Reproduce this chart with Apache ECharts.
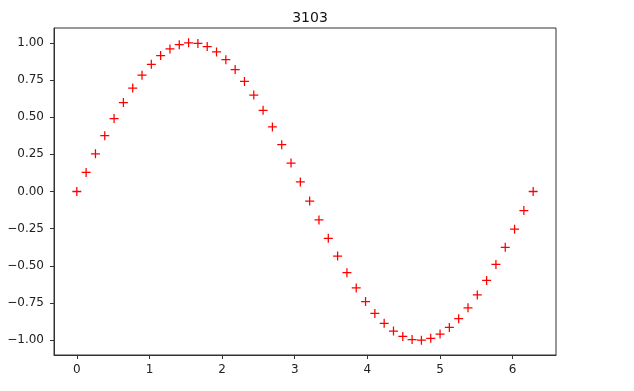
<!DOCTYPE html>
<html>
<head>
<meta charset="utf-8">
<script src="https://cdn.jsdelivr.net/npm/echarts@6/dist/echarts.min.js"></script>
<style>
html,body{margin:0;padding:0;background:#fff;}
#c{width:634px;height:391px;}
</style>
</head>
<body>
<div id="c"></div>
<script>
var chartTitle = '3103';
var xValues = [0, 0.1282, 0.2565, 0.3847, 0.5129, 0.6411, 0.7694, 0.8976, 1.0258, 1.1541,
  1.2823, 1.4105, 1.5387, 1.6670, 1.7952, 1.9234, 2.0517, 2.1799, 2.3081, 2.4363,
  2.5646, 2.6928, 2.8210, 2.9493, 3.0775, 3.2057, 3.3339, 3.4622, 3.5904, 3.7186,
  3.8468, 3.9751, 4.1033, 4.2315, 4.3598, 4.4880, 4.6162, 4.7444, 4.8727, 5.0009,
  5.1291, 5.2574, 5.3856, 5.5138, 5.6420, 5.7703, 5.8985, 6.0267, 6.1550, 6.2832];
var yValues = [0, 0.1279, 0.2537, 0.3753, 0.4907, 0.5981, 0.6957, 0.7818, 0.8551, 0.9144,
  0.9587, 0.9872, 0.9995, 0.9955, 0.9749, 0.9387, 0.8866, 0.8203, 0.7403, 0.6482,
  0.5455, 0.4339, 0.3151, 0.1912, 0.0641, -0.0641, -0.1912, -0.3151, -0.4339, -0.5455,
  -0.6482, -0.7403, -0.8203, -0.8866, -0.9387, -0.9749, -0.9955, -0.9995, -0.9872, -0.9587,
  -0.9144, -0.8551, -0.7818, -0.6957, -0.5981, -0.4907, -0.3753, -0.2537, -0.1279, 0];
var xTicks = [0, 1, 2, 3, 4, 5, 6];
var yTicks = [-1, -0.75, -0.5, -0.25, 0, 0.25, 0.5, 0.75, 1];

var points = xValues.map(function (x, i) { return [x, yValues[i]]; });
var fontFam = '"DejaVu Sans", "Noto Sans CJK SC", sans-serif';
var chart = echarts.init(document.getElementById('c'), null, {renderer: 'canvas'});
chart.setOption({
  animation: false,
  backgroundColor: '#fff',
  title: {
    text: chartTitle, left: 305, top: 6, textAlign: 'center',
    textStyle: {fontSize: 14, fontWeight: 'normal', color: '#111', fontFamily: fontFam}
  },
  grid: {left: 54, right: 78, top: 28, bottom: 36, show: true, borderColor: '#333', borderWidth: 1, backgroundColor: 'transparent'},
  xAxis: {
    type: 'value', min: -0.3142, max: 6.5973,
    axisLine: {show: true, onZero: false, lineStyle: {color: '#333', width: 1}},
    axisTick: {show: true, length: 4, inside: false, customValues: xTicks, lineStyle: {color: '#333'}},
    axisLabel: {customValues: xTicks, margin: 9, color: '#222', fontSize: 12, fontFamily: fontFam},
    splitLine: {show: false}
  },
  yAxis: {
    type: 'value', min: -1.0994, max: 1.0994,
    axisLine: {show: true, onZero: false, lineStyle: {color: '#333', width: 1}},
    axisTick: {show: true, length: 4, inside: false, customValues: yTicks, lineStyle: {color: '#333'}},
    axisLabel: {customValues: yTicks, margin: 10, color: '#222', fontSize: 12, fontFamily: fontFam,
      formatter: function (v) { return v.toFixed(2).replace('-', '\u2212'); }},
    splitLine: {show: false}
  },
  series: [{
    type: 'scatter',
    data: points,
    symbol: 'path://M0,4.3H10V5.7H0Z M4.3,0H5.7V10H4.3Z',
    symbolSize: 9,
    itemStyle: {color: '#ff0000', opacity: 1},
    emphasis: {disabled: true}
  }]
});
</script>
</body>
</html>
